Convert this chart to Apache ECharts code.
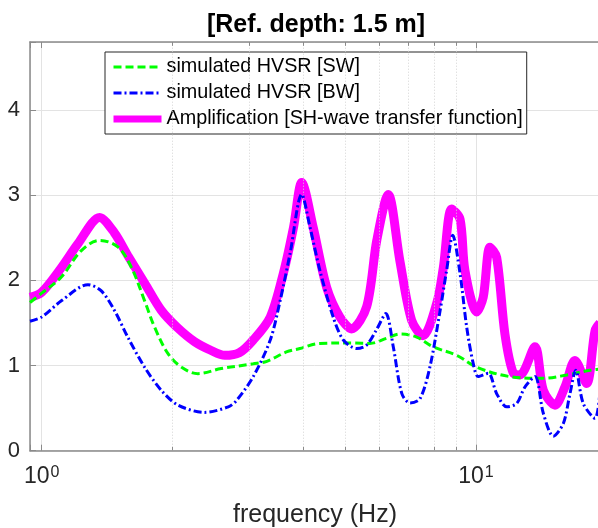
<!DOCTYPE html>
<html>
<head>
<meta charset="utf-8">
<script src="https://cdn.jsdelivr.net/npm/echarts@6/dist/echarts.min.js"></script>
<style>
  html, body { margin: 0; padding: 0; background: #fff; }
  #chart { width: 598px; height: 528px; }
</style>
</head>
<body>
<div id="chart"></div>
<script>
// frequency (Hz) / value pairs
const freqSW = [0.94, 1.0, 1.11, 1.234, 1.36, 1.5, 1.61, 1.726, 1.82, 1.954, 2.1, 2.29, 2.59, 3.07, 3.3, 3.66, 3.93, 4.37, 5.22, 5.7, 6.23, 6.68, 7.3, 7.97, 9.03, 10.04, 11.98, 14.29, 16.18, 18.3, 19.3];
const valSW = [1.74, 1.85, 2.04, 2.35, 2.47, 2.39, 2.15, 1.76, 1.45, 1.14, 0.98, 0.905, 0.965, 1.02, 1.05, 1.16, 1.2, 1.26, 1.265, 1.26, 1.32, 1.37, 1.335, 1.22, 1.12, 0.98, 0.87, 0.85, 0.89, 0.945, 0.96];

const freqBW = [0.94, 1.0, 1.11, 1.278, 1.37, 1.47, 1.58, 1.726, 1.885, 2.06, 2.37, 2.69, 2.81, 3.07, 3.36, 3.54, 3.73, 3.97, 4.15, 4.37, 4.69, 4.95, 5.31, 5.6, 5.9, 6.2, 6.45, 6.75, 7.05, 7.43, 7.83, 8.27, 8.56, 8.84, 9.19, 9.52, 9.86, 10.12, 10.67, 11.16, 11.77, 12.41, 12.97, 13.67, 14.29, 15.07, 15.89, 16.46, 16.97, 17.66, 18.8, 19.3];
const valBW = [1.52, 1.57, 1.76, 1.95, 1.88, 1.65, 1.33, 0.98, 0.71, 0.535, 0.45, 0.515, 0.59, 0.87, 1.3, 1.76, 2.31, 3.01, 2.62, 2.12, 1.57, 1.3, 1.2, 1.24, 1.42, 1.61, 1.22, 0.67, 0.56, 0.61, 0.98, 1.65, 2.12, 2.53, 2.08, 1.45, 1.02, 0.87, 0.91, 0.67, 0.515, 0.555, 0.75, 0.87, 0.44, 0.17, 0.32, 0.67, 0.945, 0.555, 0.38, 0.7];

const freqAmp = [0.94, 1.0, 1.11, 1.212, 1.36, 1.47, 1.58, 1.73, 1.885, 2.05, 2.25, 2.45, 2.64, 2.85, 3.07, 3.36, 3.6, 3.8, 3.97, 4.22, 4.53, 4.86, 5.17, 5.6, 5.91, 6.28, 6.68, 7.11, 7.55, 8.12, 8.41, 8.79, 9.19, 9.43, 10.04, 10.39, 10.77, 11.16, 11.66, 12.19, 12.63, 13.67, 14.29, 15.2, 16.03, 16.9, 17.98, 18.8, 19.3];
const valAmp = [1.8, 1.86, 2.15, 2.43, 2.74, 2.56, 2.29, 1.96, 1.65, 1.45, 1.28, 1.18, 1.12, 1.15, 1.3, 1.57, 2.08, 2.62, 3.15, 2.62, 1.92, 1.57, 1.43, 1.69, 2.47, 3.01, 2.23, 1.53, 1.35, 1.73, 2.15, 2.84, 2.72, 2.12, 1.63, 1.8, 2.39, 2.27, 1.37, 0.91, 0.89, 1.22, 0.71, 0.535, 0.75, 1.06, 0.79, 1.41, 1.5];

const minorFreqs = [2, 3, 4, 5, 6, 7, 8, 9];
const yTicks = [0, 1, 2, 3, 4];

const xMin = 0.94, xMax = 19.3, yMin = 0, yMax = 4.8;
const font = '"Liberation Sans", Arial, sans-serif';
const axisGray = '#8a8a8a';
const textDark = '#262626';
const noSymbol = { color: 'rgba(0,0,0,0)', borderWidth: 0, opacity: 0 };

const pairs = (xs, ys) => xs.map((x, i) => [x, ys[i]]);

const isPow10 = (v) => Math.abs(Math.log10(v) - Math.round(Math.log10(v))) < 1e-6;

const myChart = echarts.init(document.getElementById('chart'), null, { renderer: 'canvas' });

const option = {
  animation: false,
  backgroundColor: '#fff',
  title: {
    text: '[Ref. depth: 1.5 m]',
    left: 316,
    top: 13,
    padding: 0,
    textAlign: 'center',
    textStyle: { fontFamily: font, fontSize: 25, fontWeight: 'bold', color: '#000' },
  },
  grid: { left: 30, top: 42, width: 570, height: 408.7, outerBoundsMode: 'none' },
  legend: {
    orient: 'vertical',
    left: 105,
    top: 52,
    padding: [5, 4, 5, 5],
    itemWidth: 48,
    itemHeight: 14,
    itemGap: 6,
    borderColor: '#262626',
    borderWidth: 1,
    backgroundColor: '#fff',
    itemStyle: noSymbol,
    textStyle: { fontFamily: font, fontSize: 19.8, color: '#000', lineHeight: 20 },
    data: [
      { name: 'simulated HVSR [SW]', itemStyle: noSymbol, lineStyle: { width: 3, type: [8, 4], color: '#00ff00' } },
      { name: 'simulated HVSR [BW]', itemStyle: noSymbol, lineStyle: { width: 3, type: [8, 3, 2, 3], color: '#0000ff' } },
      { name: 'Amplification [SH-wave transfer function]', itemStyle: noSymbol, lineStyle: { width: 7, color: '#ff00ff' } },
    ],
  },
  xAxis: [
    {
      type: 'log',
      min: xMin,
      max: xMax,
      position: 'bottom',
      name: 'frequency (Hz)',
      nameLocation: 'middle',
      nameGap: 52,
      nameTextStyle: { fontFamily: font, fontSize: 25, color: textDark },
      axisLine: { lineStyle: { color: axisGray, width: 1.5 } },
      axisTick: { inside: true, length: 6, lineStyle: { color: axisGray } },
      axisLabel: {
        margin: 14,
        formatter: (v) => (isPow10(v) ? '{b|10}{s|' + Math.round(Math.log10(v)) + '}' : ''),
        rich: {
          b: { fontFamily: font, fontSize: 23, lineHeight: 23, color: textDark, verticalAlign: 'bottom' },
          s: { fontFamily: font, fontSize: 16, lineHeight: 22, color: textDark, verticalAlign: 'top', padding: [0, 0, 0, 1] },
        },
      },
      splitLine: { show: true, lineStyle: { color: '#e3e3e3', width: 1 } },
    },
    {
      type: 'log',
      min: xMin,
      max: xMax,
      position: 'top',
      axisLine: { lineStyle: { color: axisGray, width: 1.5 } },
      axisTick: { inside: true, length: 6, lineStyle: { color: axisGray } },
      axisLabel: { show: false },
      splitLine: { show: false },
    },
  ],
  yAxis: {
    type: 'value',
    min: yMin,
    max: yMax,
    interval: 1,
    axisLine: { show: true, lineStyle: { color: axisGray, width: 1.5 } },
    axisTick: { show: true, inside: true, length: 6, lineStyle: { color: axisGray } },
    axisLabel: {
      margin: 10,
      fontFamily: font,
      fontSize: 22,
      color: textDark,
      formatter: (v) => (yTicks.includes(v) ? String(v) : ''),
    },
    splitLine: { show: true, lineStyle: { color: '#e3e3e3', width: 1 } },
  },
  series: [
    {
      // minor grid + minor ticks
      name: 'minor',
      type: 'line',
      data: [],
      z: 1,
      silent: true,
      markLine: {
        silent: true,
        symbol: 'none',
        label: { show: false },
        animation: false,
        lineStyle: { color: '#d4d4d4', width: 1, type: [1, 2] },
        data: [
          ...minorFreqs.map((f) => ({ xAxis: f })),
          ...minorFreqs.map((f) => [
            { coord: [f, yMin], lineStyle: { color: axisGray, type: 'solid', width: 1 } },
            { coord: [f, yMin + 0.045] },
          ]),
          ...minorFreqs.map((f) => [
            { coord: [f, yMax], lineStyle: { color: axisGray, type: 'solid', width: 1 } },
            { coord: [f, yMax - 0.045] },
          ]),
        ],
      },
    },
    {
      name: 'Amplification [SH-wave transfer function]',
      type: 'line',
      data: pairs(freqAmp, valAmp),
      symbol: 'none',
      smooth: 0.3,
      z: 3,
      lineStyle: { color: '#ff00ff', width: 9 },
      itemStyle: { color: '#ff00ff' },
    },
    {
      name: 'simulated HVSR [SW]',
      type: 'line',
      data: pairs(freqSW, valSW),
      symbol: 'none',
      smooth: 0.35,
      z: 4,
      lineStyle: { color: '#00ff00', width: 3, type: [8, 4] },
      itemStyle: { color: '#00ff00' },
    },
    {
      name: 'simulated HVSR [BW]',
      type: 'line',
      data: pairs(freqBW, valBW),
      symbol: 'none',
      smooth: 0.3,
      z: 5,
      lineStyle: { color: '#0000ff', width: 3, type: [8, 3, 2, 3] },
      itemStyle: { color: '#0000ff' },
    },
  ],
};

myChart.setOption(option);
</script>
</body>
</html>
